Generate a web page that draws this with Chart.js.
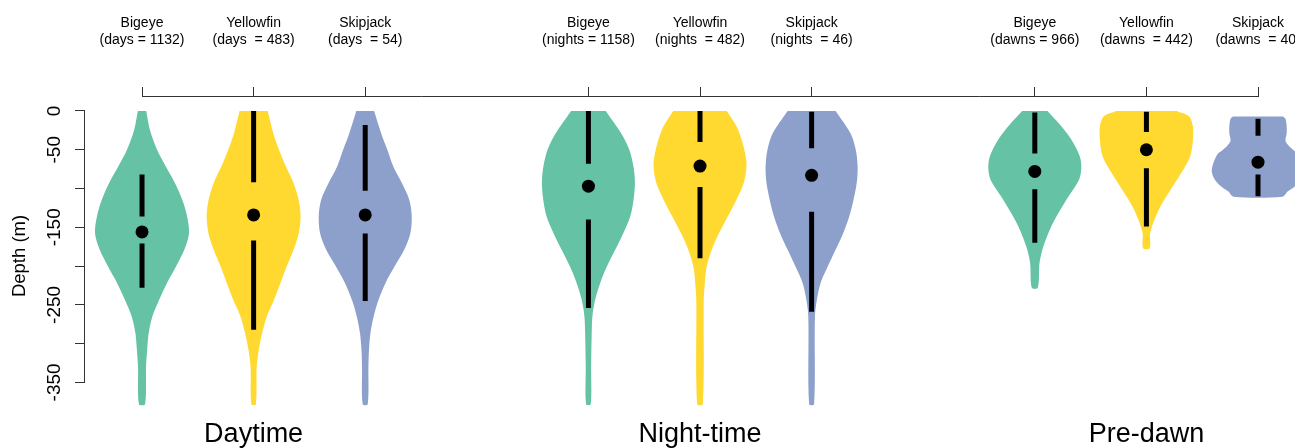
<!DOCTYPE html>
<html>
<head>
<meta charset="utf-8">
<script src="https://cdn.jsdelivr.net/npm/chart.js@4.4.1/dist/chart.umd.min.js"></script>
<style>
  html, body { margin: 0; padding: 0; background: #ffffff; overflow: hidden; }
  canvas { display: block; }
</style>
</head>
<body>
<canvas id="depthChart" width="1295" height="448"></canvas>
<script>
// ---- categories and labels ----
const periods = ['Daytime', 'Night-time', 'Pre-dawn'];
const species = ['Bigeye', 'Yellowfin', 'Skipjack'];
const sampleLabels = [
  '(days = 1132)', '(days  = 483)', '(days  = 54)',
  '(nights = 1158)', '(nights  = 482)', '(nights  = 46)',
  '(dawns = 966)', '(dawns  = 442)', '(dawns  = 40)'
];
const depthTicks = [0, -50, -100, -150, -200, -250, -300, -350];
const depthTickLabels = ['0', '-50', '', '-150', '', '-250', '', '-350'];

// ---- kernel density outlines (depth in m, relative density 0..1) ----
const depthDayBigeye = [0, -25, -50, -72, -93, -115, -136, -158, -179, -201, -222, -244, -265, -287, -308, -330, -378];
const densDayBigeye  = [0.09, 0.17, 0.32, 0.51, 0.70, 0.86, 0.96, 1.00, 0.90, 0.72, 0.53, 0.36, 0.22, 0.14, 0.11, 0.085, 0.065];
const depthDayYellowfin = [0, -29, -50, -72, -93, -115, -136, -158, -179, -201, -222, -244, -265, -287, -308, -330, -378];
const densDayYellowfin  = [0.30, 0.42, 0.54, 0.69, 0.85, 0.96, 1.00, 0.96, 0.85, 0.70, 0.57, 0.43, 0.28, 0.18, 0.11, 0.065, 0.047];
const depthDaySkipjack = [0, -29, -50, -72, -93, -115, -136, -158, -179, -201, -222, -244, -265, -287, -308, -330, -378];
const densDaySkipjack  = [0.19, 0.34, 0.47, 0.60, 0.78, 0.94, 0.99, 0.96, 0.83, 0.62, 0.43, 0.28, 0.18, 0.11, 0.08, 0.068, 0.053];

const depthNightBigeye = [0, -29, -50, -72, -93, -115, -136, -158, -179, -201, -222, -244, -265, -287, -330, -378];
const densNightBigeye  = [0.37, 0.70, 0.87, 0.96, 0.99, 0.96, 0.89, 0.74, 0.57, 0.39, 0.25, 0.14, 0.085, 0.07, 0.057, 0.049];
const depthNightYellowfin = [0, -20, -42, -68, -93, -115, -136, -158, -179, -201, -227, -244, -378];
const densNightYellowfin  = [0.57, 0.78, 0.91, 0.99, 0.93, 0.77, 0.59, 0.40, 0.25, 0.14, 0.096, 0.079, 0.06];
const depthNightSkipjack = [0, -29, -50, -72, -93, -115, -136, -158, -179, -201, -222, -244, -265, -378];
const densNightSkipjack  = [0.51, 0.83, 0.94, 0.98, 0.96, 0.89, 0.80, 0.67, 0.51, 0.34, 0.19, 0.11, 0.07, 0.053];

const depthDawnBigeye = [0, -16, -37, -59, -74, -89, -110, -132, -153, -175, -196, -228];
const densDawnBigeye  = [0.27, 0.51, 0.78, 0.96, 0.99, 0.94, 0.72, 0.50, 0.32, 0.18, 0.10, 0.064];
const depthDawnYellowfin = [0, -7, -20, -37, -59, -80, -102, -123, -145, -158, -177];
const densDawnYellowfin  = [0.64, 0.91, 0.99, 0.99, 0.93, 0.74, 0.51, 0.30, 0.14, 0.08, 0.07];
const depthDawnSkipjack = [-7, -10, -20, -29, -38, -44, -50, -55, -62, -67, -78, -89, -98, -104, -110.5];
const densDawnSkipjack  = [0.53, 0.585, 0.61, 0.61, 0.585, 0.64, 0.745, 0.85, 0.915, 0.95, 0.985, 0.915, 0.77, 0.63, 0.525];

// ---- summary bars and medians, one entry per violin ----
const upperBarTop    = [-82, 0, -18, 0, 0, -1, -2, -1, -10];
const upperBarBottom = [-136, -92, -103, -68, -40, -48, -55, -27, -32];
const medianDepth    = [-156, -134, -134, -97, -71, -83, -78, -50, -66];
const lowerBarTop    = [-171, -167, -158, -140, -98, -130, -101, -74, -82];
const lowerBarBottom = [-228, -282, -245, -254, -190, -259, -170, -149, -110];

// ---- styling ----
const FONT = "'Liberation Sans', Arial, sans-serif";
const speciesColours = ['#66C2A5', '#FFD92F', '#8DA0CB'];
const VIOLIN_HALF = 0.421;           // half width (x units) at relative density 1
const X_MIN = 0.489, X_MAX = 11.3315;
const Y_MIN = -392, Y_MAX = 18;
const AXIS_COLOUR = '#333333';

const violinDepths = [depthDayBigeye, depthDayYellowfin, depthDaySkipjack,
                      depthNightBigeye, depthNightYellowfin, depthNightSkipjack,
                      depthDawnBigeye, depthDawnYellowfin, depthDawnSkipjack];
const violinDens = [densDayBigeye, densDayYellowfin, densDaySkipjack,
                    densNightBigeye, densNightYellowfin, densNightSkipjack,
                    densDawnBigeye, densDawnYellowfin, densDawnSkipjack];

// slot on the x axis: three species per period, one empty slot between periods
const slot = k => Math.floor(k / 3) * 4 + (k % 3) + 1;

const datasets = [];
violinDepths.forEach((depths, k) => {
  const pos = slot(k);
  const dens = violinDens[k];
  const right = depths.map((d, i) => ({ x: pos + dens[i] * VIOLIN_HALF, y: d }));
  const left = depths.map((d, i) => ({ x: pos - dens[i] * VIOLIN_HALF, y: d })).reverse();
  datasets.push({
    type: 'line',
    data: right.concat(left),
    backgroundColor: speciesColours[k % 3],
    borderWidth: 0,
    fill: 'shape',
    pointRadius: 0,
    tension: 0.3,
    order: 3
  });
  datasets.push({
    type: 'line',
    data: [
      { x: pos, y: upperBarTop[k] }, { x: pos, y: upperBarBottom[k] },
      { x: pos, y: null },
      { x: pos, y: lowerBarTop[k] }, { x: pos, y: lowerBarBottom[k] }
    ],
    borderColor: '#000000',
    borderWidth: 5,
    borderCapStyle: 'butt',
    spanGaps: false,
    fill: false,
    pointRadius: 0,
    order: 2
  });
  datasets.push({
    type: 'scatter',
    data: [{ x: pos, y: medianDepth[k] }],
    backgroundColor: '#000000',
    borderWidth: 0,
    pointRadius: 6.5,
    order: 1
  });
});

// axis line spanning 0..-350 and the bracket joining the top ticks
const axisLines = {
  id: 'axisLines',
  afterDraw(chart) {
    const { ctx, chartArea, scales } = chart;
    const y = scales.y, x2 = scales.x2;
    ctx.save();
    ctx.strokeStyle = AXIS_COLOUR;
    ctx.lineWidth = 1;
    ctx.beginPath();
    const ax = Math.round(chartArea.left) - 0.5;
    ctx.moveTo(ax, Math.round(y.getPixelForValue(depthTicks[0])) - 0.5);
    ctx.lineTo(ax, Math.round(y.getPixelForValue(depthTicks[depthTicks.length - 1])) + 1);
    const by = Math.round(chartArea.top) - 0.5;
    ctx.moveTo(Math.round(x2.getPixelForValue(slot(0))), by);
    ctx.lineTo(Math.round(x2.getPixelForValue(slot(8))) + 1, by);
    ctx.stroke();
    ctx.restore();
  }
};

const zeroPadding = sc => { sc.paddingLeft = 0; sc.paddingRight = 0; sc.paddingTop = 0; sc.paddingBottom = 0; };

new Chart(document.getElementById('depthChart'), {
  type: 'line',
  data: { datasets },
  options: {
    responsive: false,
    animation: false,
    events: [],
    layout: { padding: 0, autoPadding: false },
    plugins: { legend: { display: false }, tooltip: { enabled: false } },
    scales: {
      x: {
        type: 'linear', position: 'bottom', min: X_MIN, max: X_MAX, bounds: 'data',
        grid: { display: false, drawTicks: false },
        border: { display: false },
        afterBuildTicks: sc => { sc.ticks = periods.map((p, g) => ({ value: g * 4 + 2 })); },
        ticks: {
          autoSkip: false, maxRotation: 0, padding: 3, color: '#000000',
          font: { family: FONT, size: 27 },
          callback: (v, i) => periods[i]
        },
        afterFit: sc => { sc.height = 33; zeroPadding(sc); }
      },
      x2: {
        type: 'linear', position: 'top', axis: 'x', min: X_MIN, max: X_MAX, bounds: 'data',
        grid: { drawOnChartArea: false, drawTicks: true, tickLength: 10, color: AXIS_COLOUR, lineWidth: 1 },
        border: { display: false },
        afterBuildTicks: sc => { sc.ticks = sampleLabels.map((s, k) => ({ value: slot(k) })); },
        ticks: {
          autoSkip: false, maxRotation: 0, padding: 38.5, color: '#000000',
          font: { family: FONT, size: 14 },
          callback: (v, i) => [species[i % 3], sampleLabels[i]]
        },
        afterFit: sc => { sc.height = 97; zeroPadding(sc); }
      },
      y: {
        type: 'linear', position: 'left', min: Y_MIN, max: Y_MAX, bounds: 'data',
        afterBuildTicks: sc => { sc.ticks = depthTicks.map(v => ({ value: v })); },
        grid: { drawOnChartArea: false, drawTicks: true, tickLength: 10, color: AXIS_COLOUR, lineWidth: 1 },
        border: { display: false },
        ticks: {
          autoSkip: false, minRotation: 90, maxRotation: 90, crossAlign: 'center',
          padding: 1.2, color: '#000000',
          font: { family: FONT, size: 19 },
          callback: (v, i) => depthTickLabels[i]
        },
        title: {
          display: true, text: 'Depth (m)', color: '#000000',
          font: { family: FONT, size: 18.5 },
          padding: { top: 8.8, bottom: 0 }
        },
        afterFit: sc => { sc.width = 85; zeroPadding(sc); }
      }
    }
  },
  plugins: [axisLines]
});
</script>
</body>
</html>
